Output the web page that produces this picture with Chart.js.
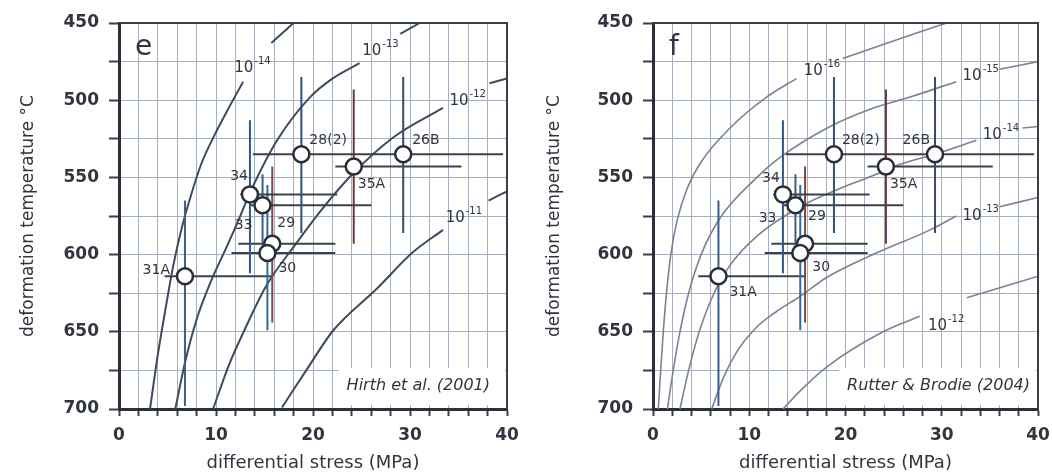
<!DOCTYPE html>
<html lang="en">
<head>
<meta charset="UTF-8">
<title>Deformation temperature vs differential stress</title>
<script src="https://cdn.jsdelivr.net/npm/chart.js"></script>
<style>
    body { margin: 0; background: #fff; }
    .painel { position: absolute; top: 0; width: 526px; height: 474px; }
</style>
</head>
<body>
<div class="painel" style="left:0"><canvas id="chartE" width="526" height="474"></canvas></div>
<div class="painel" style="left:526px"><canvas id="chartF" width="526" height="474"></canvas></div>
<script>
    // samples (same in both panels)
    const samples = ['28(2)', '26B', '35A', '34', '33', '29', '30', '31A'];
    const stress = [18.8, 29.3, 24.2, 13.5, 14.8, 15.8, 15.3, 6.8];
    const temperature = [535, 535, 543, 561, 568, 593, 599, 614];
    const stressLow = [13.8, 23.5, 22.3, 12.5, 13.5, 12.3, 11.6, 4.7];
    const stressHigh = [23.5, 39.6, 35.3, 22.5, 26.0, 22.3, 22.3, 15.8];
    const tempLow = [485, 485, 493, 513, 548, 543, 555, 565];
    const tempHigh = [586, 586, 593, 612, 600, 644, 649, 698];

    const xTicks = [0, 10, 20, 30, 40];
    const yTicks = [450, 500, 550, 600, 650, 700];

    // strain rate curves, Hirth et al. (2001)
    const hirthNames = ['-14', '-13', '-12', '-11'];
    const hirth14x = [3.2, 4.0, 4.8, 5.6, 6.5, 7.4, 8.5, 9.9, 11.4, 12.8, null, 15.7, 18.0];
    const hirth14y = [700, 665, 635, 607, 582, 562, 541, 522, 504, 488, null, 463, 450];
    const hirth13x = [5.8, 6.8, 8.0, 9.5, 11.1, 12.3, 13.5, 16.3, 19.7, 22.0, 24.8, null, 29.0, 31.0];
    const hirth13y = [700, 670, 642, 617, 595, 578, 560, 526, 498, 486, 476, null, 457, 450];
    const hirth12x = [9.7, 11.3, 13.0, 15.2, 18.0, 21.0, 24.2, 28.3, 33.4, null, 38.2, 40.0];
    const hirth12y = [700, 672, 648, 620, 595, 570, 547, 524, 505, null, 489, 486];
    const hirth11x = [16.8, 19.3, 22.1, 26.6, 30.2, 33.4, null, 38.1, 40.0];
    const hirth11y = [699, 675, 649, 622, 599, 584, null, 565, 559];
    const hirthLabelX = [13.7, 26.9, 35.9, 35.5];
    const hirthLabelY = [478, 467, 499, 575];

    // strain rate curves, Rutter & Brodie (2004)
    const rutterNames = ['-16', '-15', '-14', '-13', '-12'];
    const rutter16x = [0.55, 0.8, 1.07, 1.4, 1.85, 2.5, 3.5, 5.0, 8.0, 11.8, 14.9, null, 19.7, 26.7, 30.5];
    const rutter16y = [700, 675, 650, 625, 600, 578, 558, 540, 518, 498, 486, null, 473, 458, 450];
    const rutter15x = [1.5, 2.1, 2.8, 3.7, 5.0, 7.0, 10.8, 13.2, 18.4, 22.5, 26.7, 31.5, null, 36.0, 40.0];
    const rutter15y = [700, 675, 650, 625, 600, 576, 550, 537, 517, 506, 498, 488, null, 480, 475];
    const rutter14x = [2.8, 3.7, 4.8, 6.2, 8.0, 10.8, 15.3, 19.5, 23.2, 25.0, 29.8, 33.6, null, 38.4, 40.0];
    const rutter14y = [700, 675, 650, 627, 607, 588, 569, 557, 548, 543, 534, 526, null, 518, 517];
    const rutter13x = [6.1, 7.3, 8.8, 10.6, 12.8, 15.3, 18.0, 23.2, 28.8, 31.5, null, 36.0, 40.0];
    const rutter13y = [700, 680, 662, 648, 637, 627, 615, 599, 584, 575, null, 569, 563];
    const rutter12x = [13.5, 15.5, 18.0, 23.9, 27.7, null, 32.6, 40.0];
    const rutter12y = [700, 687, 673, 650, 640, null, 628, 614];
    const rutterLabelX = [17.5, 34.0, 36.1, 34.0, 30.4];
    const rutterLabelY = [480, 483, 521, 574, 645];

    const barColors = ['#2f5078', '#3c4a66', '#6a3b3b', '#2e5a8a', '#3a5f8a', '#7a4a48', '#2f6e9a', '#3b5f86'];
    const font = '"DejaVu Sans", sans-serif';
    const textColor = '#30353f';

    // label offsets [dx, dy, align] in px
    const placeE = {
        '28(2)': [8, -14, 'left'], '26B': [9, -14, 'left'], '35A': [4, 18, 'left'], '34': [-2, -18, 'right'],
        '33': [-10, 20, 'right'], '29': [5, -20, 'left'], '30': [11, 15, 'left'], '31A': [-15, -6, 'right']
    };
    const placeF = {
        '28(2)': [8, -14, 'left'], '26B': [-5, -14, 'right'], '35A': [4, 18, 'left'], '34': [-3, -16, 'right'],
        '33': [-19, 13, 'right'], '29': [3, -27, 'left'], '30': [12, 14, 'left'], '31A': [11, 16, 'left']
    };

    function pontos(xs, ys) {
        return xs.map((x, i) => ({ x: x, y: ys[i] }));
    }

    const anotacoes = {
        id: 'anotacoes',
        beforeDatasetsDraw(chart, args, o) {
            const { ctx, chartArea: a } = chart;
            ctx.save();
            ctx.font = 'oblique 16px ' + font;
            const w = ctx.measureText(o.citation).width;
            ctx.fillStyle = '#fff';
            ctx.fillRect(a.right - o.citRight - w - 8, a.bottom - 41, w + o.citRight + 6, 37);
            ctx.restore();
        },
        afterDatasetsDraw(chart, args, o) {
            const { ctx, chartArea: a, scales } = chart;
            ctx.save();
            // top and right frame
            ctx.strokeStyle = '#3a3e46';
            ctx.lineWidth = 2;
            ctx.beginPath();
            ctx.moveTo(a.left, a.top);
            ctx.lineTo(a.right, a.top);
            ctx.lineTo(a.right, a.bottom);
            ctx.stroke();

            ctx.fillStyle = textColor;
            // panel letter
            ctx.font = '28px ' + font;
            ctx.textAlign = 'left';
            ctx.textBaseline = 'alphabetic';
            ctx.fillText(o.letter, a.left + 16, a.top + 32);

            // citation
            ctx.font = 'oblique 16px ' + font;
            ctx.textAlign = 'right';
            ctx.fillText(o.citation, a.right - o.citRight, a.bottom - 19);

            // sample labels
            ctx.font = '14px ' + font;
            ctx.textBaseline = 'middle';
            samples.forEach((s, i) => {
                const p = o.place[s];
                ctx.textAlign = p[2];
                ctx.fillText(s, scales.x.getPixelForValue(stress[i]) + p[0], scales.y.getPixelForValue(temperature[i]) + p[1]);
            });

            // strain rate labels
            ctx.textAlign = 'left';
            ctx.textBaseline = 'alphabetic';
            o.names.forEach((n, i) => {
                const px = scales.x.getPixelForValue(o.labelX[i]);
                const py = scales.y.getPixelForValue(o.labelY[i]);
                ctx.font = '15px ' + font;
                const w1 = ctx.measureText('10').width;
                ctx.font = '10px ' + font;
                const w2 = ctx.measureText(n).width;
                const x0 = px - (w1 + w2) / 2;
                ctx.font = '15px ' + font;
                ctx.fillText('10', x0, py + 6);
                ctx.font = '10px ' + font;
                ctx.fillText(n, x0 + w1 + 1, py - 2);
            });
            ctx.restore();
        }
    };

    function painel(id, curvesX, curvesY, curveColor, curveWidth, opts, yWidth, padRight) {
        const datasets = [];
        datasets.push({
            data: pontos(stress, temperature),
            pointRadius: 8,
            pointBorderWidth: 2.5,
            pointBackgroundColor: '#fff',
            pointBorderColor: '#2a2e36',
            order: 0
        });
        samples.forEach((s, i) => {
            datasets.push({
                data: pontos([stressLow[i], stressHigh[i]], [temperature[i], temperature[i]]),
                showLine: true, pointRadius: 0, borderColor: '#3d4048', borderWidth: 2, order: 1
            });
            datasets.push({
                data: pontos([stress[i], stress[i]], [tempLow[i], tempHigh[i]]),
                showLine: true, pointRadius: 0, borderColor: barColors[i], borderWidth: 2, order: 1
            });
        });
        curvesX.forEach((cx, i) => {
            datasets.push({
                data: pontos(cx, curvesY[i]),
                showLine: true, pointRadius: 0, borderColor: curveColor, borderWidth: curveWidth,
                cubicInterpolationMode: 'monotone', spanGaps: false, order: 2
            });
        });

        new Chart(document.getElementById(id), {
            type: 'scatter',
            data: { datasets: datasets },
            options: {
                responsive: false,
                animation: false,
                events: [],
                layout: { padding: { left: 0, right: padRight, top: 23, bottom: 0 } },
                plugins: {
                    legend: { display: false },
                    tooltip: { enabled: false },
                    anotacoes: opts
                },
                scales: {
                    x: {
                        type: 'linear', min: 0, max: 40,
                        afterFit: s => { s.height = 65; s.paddingLeft = 0; s.paddingRight = 0; },
                        ticks: {
                            stepSize: 2, padding: 9, color: textColor, autoSkip: false, maxRotation: 0, minRotation: 0,
                            font: { family: font, size: 17, weight: 'bold' },
                            callback: v => xTicks.includes(v) ? v : ''
                        },
                        grid: { color: '#a6afbe', lineWidth: 1, tickColor: '#3a3e46', tickLength: 7, tickWidth: 2 },
                        border: { color: '#2b2f38', width: 3 },
                        title: {
                            display: true, text: 'differential stress (MPa)', color: textColor,
                            font: { family: font, size: 18 }, padding: { top: 0, bottom: 0 }
                        }
                    },
                    y: {
                        type: 'linear', min: 450, max: 700, reverse: true,
                        afterFit: s => { s.width = yWidth; s.paddingTop = 0; s.paddingBottom = 0; },
                        ticks: {
                            stepSize: 25, padding: 10, color: textColor, autoSkip: false,
                            font: { family: font, size: 17, weight: 'bold' },
                            callback: v => yTicks.includes(v) ? v : ''
                        },
                        grid: { color: '#a6afbe', lineWidth: 1, tickColor: '#3a3e46', tickLength: 10, tickWidth: 2 },
                        border: { color: '#2b2f38', width: 3 },
                        title: {
                            display: true, text: 'deformation temperature °C', color: textColor,
                            font: { family: font, size: 17 }, padding: { top: 18, bottom: 0 }
                        }
                    }
                }
            },
            plugins: [anotacoes]
        });
    }

    painel('chartE',
        [hirth14x, hirth13x, hirth12x, hirth11x],
        [hirth14y, hirth13y, hirth12y, hirth11y],
        '#3e4a5e', 2,
        { letter: 'e', citation: 'Hirth et al. (2001)', citRight: 17, place: placeE, names: hirthNames, labelX: hirthLabelX, labelY: hirthLabelY },
        119, 19);

    painel('chartF',
        [rutter16x, rutter15x, rutter14x, rutter13x, rutter12x],
        [rutter16y, rutter15y, rutter14y, rutter13y, rutter12y],
        '#7d8290', 1.6,
        { letter: 'f', citation: 'Rutter & Brodie (2004)', citRight: 8, place: placeF, names: rutterNames, labelX: rutterLabelX, labelY: rutterLabelY },
        127, 14);
</script>
</body>
</html>
